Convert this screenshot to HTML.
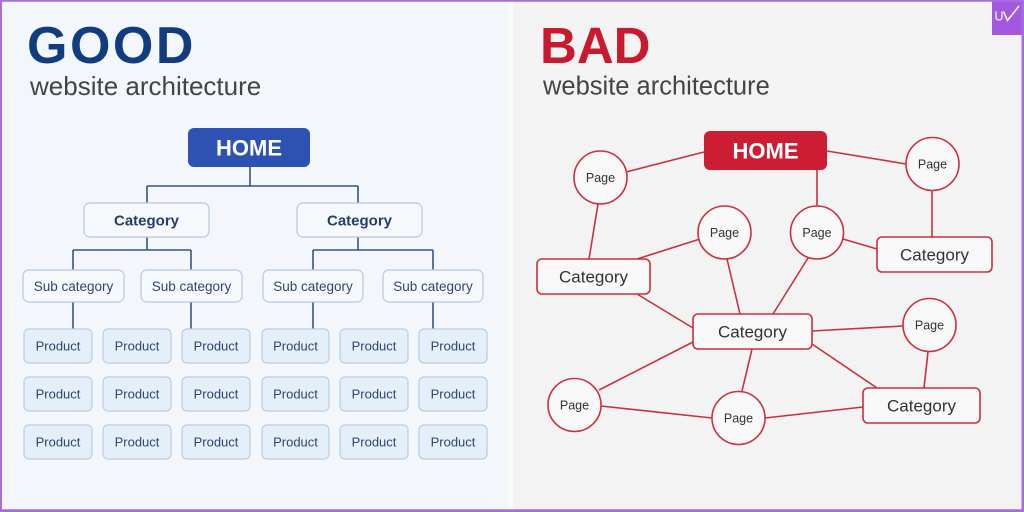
<!DOCTYPE html>
<html><head><meta charset="utf-8"><style>
html,body{margin:0;padding:0;width:1024px;height:512px;overflow:hidden;background:#fafafa}
svg{display:block}
text{font-family:"Liberation Sans",sans-serif}
</style></head><body>
<svg width="1024" height="512" viewBox="0 0 1024 512" xmlns="http://www.w3.org/2000/svg">
<rect x="0" y="0" width="1024" height="512" fill="#fafafa"/>
<rect x="0" y="0" width="508" height="512" fill="#f3f7fb"/>
<rect x="513" y="0" width="511" height="512" fill="#f3f3f3"/>

<!-- GOOD side -->
<text x="27" y="63" font-size="52" font-weight="bold" fill="#113d80" letter-spacing="2.5">GOOD</text>
<text x="30" y="95" font-size="26" fill="#444">website architecture</text>

<g stroke="#355583" stroke-width="1.6" fill="none">
<path d="M250 167V186M147 186H358M147 186V203M358 186V203"/>
<path d="M147 237V250M73 250H191M73 250V270M191 250V270"/>
<path d="M358 237V250M313 250H433M313 250V270M433 250V270"/>
<path d="M73 302V329M191 302V329M313 302V329M433 302V329"/>
</g>

<rect x="188" y="128" width="122" height="39" rx="6" fill="#2d52b4"/>
<text x="249" y="155.5" font-size="22" font-weight="bold" fill="#fff" text-anchor="middle">HOME</text>

<g fill="#f6f9fc" stroke="#b5c8df" stroke-width="1.2">
<rect x="84" y="203" width="125" height="34" rx="6"/>
<rect x="297" y="203" width="125" height="34" rx="6"/>
</g>
<g font-size="15" font-weight="bold" fill="#243d6b" text-anchor="middle">
<text x="146.5" y="225.5">Category</text>
<text x="359.5" y="225.5">Category</text>
</g>

<g fill="#f6f9fc" stroke="#b5c8df" stroke-width="1.2">
<rect x="23" y="270" width="101" height="32" rx="6"/>
<rect x="141" y="270" width="101" height="32" rx="6"/>
<rect x="263" y="270" width="100" height="32" rx="6"/>
<rect x="383" y="270" width="100" height="32" rx="6"/>
</g>
<g font-size="13.5" fill="#2e4570" text-anchor="middle">
<text x="73.5" y="290.8">Sub category</text>
<text x="191.5" y="290.8">Sub category</text>
<text x="313" y="290.8">Sub category</text>
<text x="433" y="290.8">Sub category</text>
</g>

<g fill="#e5eff9" stroke="#b7cde4" stroke-width="1.2">
<rect x="24" y="329" width="68" height="34" rx="5"/><rect x="103" y="329" width="68" height="34" rx="5"/><rect x="182" y="329" width="68" height="34" rx="5"/><rect x="262" y="329" width="67" height="34" rx="5"/><rect x="340" y="329" width="68" height="34" rx="5"/><rect x="419" y="329" width="68" height="34" rx="5"/>
<rect x="24" y="377" width="68" height="34" rx="5"/><rect x="103" y="377" width="68" height="34" rx="5"/><rect x="182" y="377" width="68" height="34" rx="5"/><rect x="262" y="377" width="67" height="34" rx="5"/><rect x="340" y="377" width="68" height="34" rx="5"/><rect x="419" y="377" width="68" height="34" rx="5"/>
<rect x="24" y="425" width="68" height="34" rx="5"/><rect x="103" y="425" width="68" height="34" rx="5"/><rect x="182" y="425" width="68" height="34" rx="5"/><rect x="262" y="425" width="67" height="34" rx="5"/><rect x="340" y="425" width="68" height="34" rx="5"/><rect x="419" y="425" width="68" height="34" rx="5"/>
</g>
<g font-size="13" fill="#2e4570" text-anchor="middle">
<text x="58" y="350.6">Product</text><text x="137" y="350.6">Product</text><text x="216" y="350.6">Product</text><text x="295.5" y="350.6">Product</text><text x="374" y="350.6">Product</text><text x="453" y="350.6">Product</text>
<text x="58" y="398.6">Product</text><text x="137" y="398.6">Product</text><text x="216" y="398.6">Product</text><text x="295.5" y="398.6">Product</text><text x="374" y="398.6">Product</text><text x="453" y="398.6">Product</text>
<text x="58" y="446.6">Product</text><text x="137" y="446.6">Product</text><text x="216" y="446.6">Product</text><text x="295.5" y="446.6">Product</text><text x="374" y="446.6">Product</text><text x="453" y="446.6">Product</text>
</g>

<!-- BAD side -->
<text x="540" y="63" font-size="51" font-weight="bold" fill="#c8192e">BAD</text>
<text x="543" y="94.5" font-size="25.5" fill="#444">website architecture</text>

<g stroke="#c9303f" stroke-width="1.6" fill="none">
<line x1="626" y1="172" x2="704" y2="152"/>
<line x1="827" y1="151" x2="906" y2="164"/>
<line x1="817" y1="170" x2="817" y2="206"/>
<line x1="598" y1="204" x2="589" y2="259"/>
<line x1="932" y1="191" x2="932" y2="238"/>
<line x1="637" y1="259" x2="700" y2="239"/>
<line x1="843" y1="239" x2="877" y2="249"/>
<line x1="727" y1="259" x2="740" y2="314"/>
<line x1="808" y1="258" x2="773" y2="314"/>
<line x1="637" y1="294" x2="693" y2="328"/>
<line x1="812" y1="331" x2="903" y2="326"/>
<line x1="693" y1="342" x2="599" y2="390"/>
<line x1="752" y1="349" x2="742" y2="391"/>
<line x1="812" y1="344" x2="877" y2="388"/>
<line x1="928" y1="352" x2="924" y2="388"/>
<line x1="601" y1="406" x2="712" y2="418"/>
<line x1="765" y1="418" x2="863" y2="407"/>
</g>

<rect x="704" y="131" width="123" height="39" rx="6" fill="#cc1d34"/>
<text x="765.5" y="158.5" font-size="22" font-weight="bold" fill="#fff" text-anchor="middle">HOME</text>

<g fill="#f8f8f8" stroke="#c9303f" stroke-width="1.6">
<circle cx="600.5" cy="177.5" r="26.5"/>
<circle cx="932.5" cy="164" r="26.5"/>
<circle cx="724.5" cy="232.5" r="26.5"/>
<circle cx="817" cy="232.5" r="26.5"/>
<circle cx="929.5" cy="325" r="26.5"/>
<circle cx="574.5" cy="405" r="26.5"/>
<circle cx="738.5" cy="418" r="26.5"/>
<rect x="537" y="259" width="113" height="35" rx="5"/>
<rect x="877" y="237" width="115" height="35" rx="5"/>
<rect x="693" y="314" width="119" height="35" rx="5"/>
<rect x="863" y="388" width="117" height="35" rx="5"/>
</g>
<g font-size="12.5" fill="#333" text-anchor="middle">
<text x="600.5" y="181.8">Page</text>
<text x="932.5" y="168.3">Page</text>
<text x="724.5" y="236.8">Page</text>
<text x="817" y="236.8">Page</text>
<text x="929.5" y="329.3">Page</text>
<text x="574.5" y="409.3">Page</text>
<text x="738.5" y="422.3">Page</text>
</g>
<g font-size="17" fill="#333" text-anchor="middle">
<text x="593.5" y="282.5">Category</text>
<text x="934.5" y="260.5">Category</text>
<text x="752.5" y="337.5">Category</text>
<text x="921.5" y="411.5">Category</text>
</g>

<!-- logo -->
<rect x="992" y="0" width="32" height="35" fill="#a259e0"/>
<text x="994.5" y="20.5" font-size="12.5" fill="#fff">U</text>
<path d="M1003.5 11.5 L1007.5 20.5 L1019 6" stroke="#fff" stroke-width="1.5" fill="none"/>

<!-- border -->
<rect x="1" y="0.75" width="1021.5" height="509.5" fill="none" stroke="#a56ee0" stroke-width="2"/>
<rect x="0" y="509.5" width="1024" height="2.5" fill="#a56ee0"/>
<rect x="1022" y="0" width="2" height="512" fill="#a56ee0"/>
</svg>
</body></html>
